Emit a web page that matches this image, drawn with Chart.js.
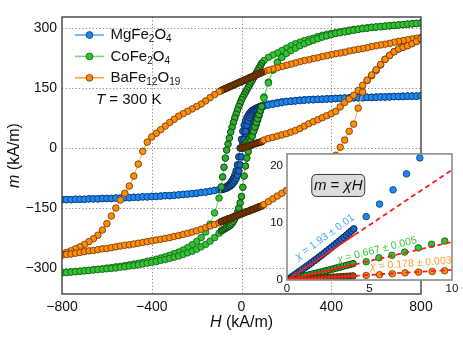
<!DOCTYPE html>
<html><head><meta charset="utf-8">
<script src="https://cdn.jsdelivr.net/npm/chart.js@4.4.0/dist/chart.umd.min.js"></script>
<style>
html,body{margin:0;padding:0;background:#fff;}
#wrap{position:relative;width:463px;height:348px;overflow:hidden;}
#main{position:absolute;left:0;top:0;width:463px;height:348px;}
#inset{position:absolute;left:258px;top:143px;width:205px;height:160px;}
</style></head><body>
<div id="wrap">
<canvas id="main" width="463" height="348"></canvas>
<canvas id="inset" width="205" height="160"></canvas>
</div>
<script>
// ---------------- DATA ----------------
const seriesNames = ['MgFe₂O₄', 'CoFe₂O₄', 'BaFe₁₂O₁₉'];
const tempLabel = 'T = 300 K';
const xTitle = 'H (kA/m)';
const yTitle = 'm (kA/m)';
const xTickValues = [-800, -400, 0, 400, 800];
const yTickValues = [-300, -150, 0, 150, 300];
const insetXTicks = [0, 5, 10];
const insetYTicks = [0, 10, 20];
const insetBoxLabel = 'm = χH';
const chiValues = [1.93, 0.667, 0.178];
const chiLabels = ['χ = 1.93 ± 0.01', 'χ = 0.667 ± 0.005', 'χ = 0.178 ± 0.003'];

// field values (kA/m): initial curve, descending branch, ascending branch
const hVirgin = [0,6,12,18,24,30,36,42,48,54,60,66,72,78,84,90,
  100,120,140,160,180,200,220,240,260,280,300,320,340,360,380,400,420,440,460,480,
  500,520,540,560,580,600,620,640,660,680,700,720,740,760,780,800];
const hDown = [800,780,760,740,720,700,680,660,640,620,
  600,580,560,540,520,500,480,460,440,420,
  400,380,360,340,320,300,280,260,240,220,
  200,180,160,140,120,100,
  90,84,78,72,66,60,54,48,42,36,
  30,24,18,12,6,0,-6,-12,-18,-24,
  -30,-36,-42,-48,-54,-60,-66,-72,-78,-84,
  -90,
  -100,-120,-140,-160,-180,-200,-220,-240,-260,-280,
  -300,-320,-340,-360,-380,-400,-420,-440,-460,-480,
  -500,-520,-540,-560,-580,-600,-620,-640,-660,-680,
  -700,-720,-740,-760,-780,-800];
const hUp = [-800,-780,-760,-740,-720,-700,-680,-660,-640,-620,
  -600,-580,-560,-540,-520,-500,-480,-460,-440,-420,
  -400,-380,-360,-340,-320,-300,-280,-260,-240,-220,
  -200,-180,-160,-140,-120,-100,
  -90,-84,-78,-72,-66,-60,-54,-48,-42,-36,
  -30,-24,-18,-12,-6,0,6,12,18,24,
  30,36,42,48,54,60,66,72,78,84,
  90,
  100,120,140,160,180,200,220,240,260,280,
  300,320,340,360,380,400,420,440,460,480,
  500,520,540,560,580,600,620,640,660,680,
  700,720,740,760,780,800];

// MgFe2O4 magnetization (kA/m)
const mgVirgin = [0,12,23,35,46,56,65,73,80,85,89,93,96,98,100,102,
  105,108,110,112,114,116,117,118,119,120,
  121,121,122,122,123,123,124,124,125,125,
  126,126,126,127,127,127,128,128,128,129,
  129,129,130,130,130,131];
const mgDown = [131,130,130,130,130,129,129,129,128,128,
  128,127,127,127,126,126,126,125,125,124,
  124,123,123,122,122,121,121,120,119,118,
  117,116,114,112,110,107,
  105,104,103,101,100,98,96,94,91,87,
  82,76,68,57,42,22,0,-22,-42,-57,
  -68,-76,-82,-87,-91,-94,-96,-98,-100,-101,
  -103,
  -104,-106,-108,-110,-111,-113,-114,-115,-116,-117,
  -118,-119,-119,-120,-121,-121,-122,-122,-123,-123,
  -124,-124,-125,-125,-126,-126,-126,-127,-127,-127,
  -128,-128,-128,-129,-129,-129];
const mgUp = [-129,-129,-129,-128,-128,-128,-127,-127,-127,-126,
  -126,-126,-125,-125,-124,-124,-123,-123,-122,-122,
  -121,-121,-120,-119,-119,-118,-117,-116,-115,-114,
  -113,-111,-110,-108,-106,-104,
  -104,-103,-102,-101,-100,-98,-96,-94,-91,-87,
  -82,-76,-68,-57,-42,-22,0,22,42,57,
  68,76,82,87,91,94,96,98,100,101,
  103,
  106,108,110,112,114,116,117,118,119,120,
  121,121,122,122,123,123,124,124,125,125,
  126,126,126,127,127,127,128,128,128,129,
  129,129,130,130,130,131];

// CoFe2O4 magnetization (kA/m)
const coVirgin = [0,4,8,12,16,20,25,30,36,43,51,60,70,81,93,106,
  128,165,196,215,228,238,246,252,257,262,
  266,270,274,278,281,284,287,289,291,293,
  295,297,299,300,302,303,304,305,306,307,
  308,309,310,311,312,313];
const coDown = [313,312,311,310,309,308,307,306,305,304,
  303,302,301,300,298,297,295,293,291,289,
  287,285,282,279,275,272,269,265,261,256,
  250,244,238,233,227,219,
  212,206,200,194,188,182,176,170,164,158,
  152,146,140,134,128,121,113,104,95,85,
  75,64,52,40,25,10,-5,-25,-48,-72,
  -97,
  -125,-162,-190,-210,-224,-234,-242,-249,-255,-260,
  -264,-268,-272,-275,-278,-281,-283,-286,-288,-290,
  -292,-294,-296,-297,-299,-300,-302,-303,-304,-306,
  -307,-308,-309,-310,-311,-312];
const coUp = [-312,-311,-310,-309,-308,-307,-306,-305,-304,-303,
  -302,-301,-300,-298,-297,-295,-294,-292,-290,-288,
  -286,-284,-281,-279,-276,-273,-270,-266,-262,-258,
  -253,-247,-241,-233,-224,-213,
  -207,-205,-203,-201,-199,-197,-195,-192,-188,-183,
  -177,-170,-161,-150,-137,-121,-98,-70,-45,-25,
  -9,5,18,30,42,53,64,74,84,94,
  104,
  125,163,195,214,227,237,244,250,256,261,
  266,270,274,278,281,284,287,289,291,293,
  295,297,299,300,302,303,304,305,306,307,
  308,309,310,311,312,313];

// BaFe12O19 magnetization (kA/m)
const baVirgin = [0,1,2,3,4,5,6,7,9,10,11,12,13,14,15,16,
  20,24,27,30,33,36,40,44,49,55,
  61,66,71,76,81,86,92,103,114,123,
  132,144,157,169,181,194,208,222,232,241,
  248,253,257,262,267,273];
const baDown = [277,275,273,271,269,267,265,262,260,258,
  256,254,251,249,247,245,243,240,238,236,
  234,231,229,226,224,221,219,216,213,210,
  207,204,201,198,195,191,
  189,188,186,185,183,182,180,179,177,176,
  174,173,171,170,168,167,165,164,162,161,
  159,158,156,155,153,152,150,149,147,146,
  144,
  141,134,126,118,110,104,98,92,86,80,
  72,64,55,46,37,28,15,-8,-40,-70,
  -95,-113,-130,-150,-170,-189,-205,-218,-227,-234,
  -241,-247,-252,-257,-261,-265];
const baUp = [-268,-266,-265,-263,-261,-259,-257,-256,-254,-252,
  -251,-249,-247,-245,-243,-242,-240,-238,-236,-234,
  -232,-230,-228,-226,-224,-221,-219,-216,-213,-210,
  -207,-203,-199,-195,-191,-187,
  -184,-183,-181,-180,-179,-177,-176,-175,-174,-172,
  -171,-170,-168,-167,-166,-164,-163,-162,-160,-159,
  -158,-157,-155,-154,-153,-151,-150,-149,-147,-146,
  -145,
  -141,-134,-127,-120,-113,-106,-100,-94,-88,-82,
  -75,-67,-58,-49,-40,-30,-18,2,20,42,
  60,100,140,170,183,196,209,222,232,241,
  248,252,256,261,267,274];

// inset: low-field initial curves
const insetMgH = [0,0.15,0.3,0.45,0.6,0.75,0.9,1.05,1.2,1.35,1.5,1.65,1.8,1.95,2.1,2.25,2.4,2.55,2.7,2.85,3.0,3.15,3.3,3.45,3.6,3.75,3.9,4.05,4.8,5.61,6.43,7.24,8.05];
const insetMgM = [0,0.29,0.58,0.88,1.18,1.49,1.79,2.1,2.42,2.73,3.05,3.38,3.7,4.03,4.36,4.7,5.04,5.38,5.72,6.07,6.42,6.77,7.13,7.49,7.85,8.22,8.59,8.96,11.1,13.3,15.8,18.6,21.4];
const insetCoH = [0,0.2,0.4,0.6,0.8,1.0,1.2,1.4,1.6,1.8,2.0,2.2,2.4,2.6,2.8,3.0,3.2,3.4,3.6,3.8,4.0,4.8,5.57,6.36,7.13,7.96,8.76,9.56];
const insetCoM = [0,0.13,0.27,0.4,0.54,0.67,0.81,0.95,1.08,1.22,1.36,1.5,1.65,1.79,1.94,2.09,2.24,2.4,2.55,2.71,2.87,3.2,3.9,4.33,4.89,5.63,6.26,6.83];
const insetBaH = [0,0.2,0.4,0.6,0.8,1.0,1.2,1.4,1.6,1.8,2.0,2.2,2.4,2.6,2.8,3.0,3.2,3.4,3.6,3.8,4.0,4.8,5.61,6.38,7.16,7.97,8.8,9.55];
const insetBaM = [0,0.04,0.07,0.11,0.14,0.18,0.21,0.25,0.28,0.32,0.36,0.39,0.43,0.46,0.5,0.53,0.57,0.6,0.64,0.68,0.71,0.8,0.93,1.09,1.26,1.38,1.5,1.62];
const fitSplitH = 4.1;
const fitEndH = 10;

// ---------------- STYLE ----------------
const FF = '"Liberation Sans", Arial, Helvetica, sans-serif';
const styles = [
  {fill:'#1e88f0', edge:'#0a3a78', line:'#5aaaf5', text:'#4aa3ff', dFill:'#1a66c0', dEdge:'#082a58'},
  {fill:'#33c233', edge:'#0f5e0f', line:'#6edc6e', text:'#3cc83c', dFill:'#30aa30', dEdge:'#0c4a0c'},
  {fill:'#ff8c0a', edge:'#6b3300', line:'#ffa640', text:'#ff9d2e', dFill:'#9a4f0c', dEdge:'#4a2200'}
];
const mainDenseLimit = 91;   // fine-step field range (|H| below this)
const insetDenseLimit = 4.1;

function pts(hs, ms){ return hs.map((h,i)=>({x:h, y:ms[i]})); }
function fmt(v){ return v < 0 ? '\u2212' + Math.abs(v) : String(v); }

const SUB = {'₀':'0','₁':'1','₂':'2','₃':'3','₄':'4','₅':'5','₆':'6','₇':'7','₈':'8','₉':'9'};
function runs(str, italicIdx){
  const out = [];
  [...str].forEach((ch,i)=>{
    const sub = SUB[ch] !== undefined;
    const st = sub ? 's' : (italicIdx.includes(i) ? 'i' : 'n');
    const c = sub ? SUB[ch] : ch;
    if (out.length && out[out.length-1].st === st) out[out.length-1].t += c;
    else out.push({st, t:c});
  });
  return out;
}
function fontFor(st, size){
  if (st === 's') return `${Math.round(size*0.68)}px ${FF}`;
  if (st === 'i') return `italic ${size}px ${FF}`;
  return `${size}px ${FF}`;
}
function drawRich(ctx, str, x, y, size, italicIdx, align, color){
  const rs = runs(str, italicIdx || []);
  let w = 0;
  rs.forEach(r=>{ ctx.font = fontFor(r.st, size); w += ctx.measureText(r.t).width; });
  let cx = align === 'center' ? x - w/2 : x;
  ctx.textBaseline = 'middle'; ctx.textAlign = 'left'; ctx.fillStyle = color || '#111';
  rs.forEach(r=>{
    ctx.font = fontFor(r.st, size);
    ctx.fillText(r.t, cx, y + (r.st === 's' ? size*0.3 : 0));
    cx += ctx.measureText(r.t).width;
  });
  return w;
}

// ---------------- MAIN CHART ----------------
const materials = [
  {v:mgVirgin, d:mgDown, u:mgUp, order:2},
  {v:coVirgin, d:coDown, u:coUp, order:1},
  {v:baVirgin, d:baDown, u:baUp, order:0}
];
const mainDatasets = materials.map((m,i)=>({
  label: seriesNames[i],
  data: [...pts(hVirgin, m.v), ...pts(hDown, m.d), ...pts(hUp, m.u)],
  showLine: true,
  borderColor: styles[i].line,
  borderWidth: 1,
  pointRadius: 3.3,
  pointBackgroundColor: c => (c.raw && Math.abs(c.raw.x) < mainDenseLimit) ? styles[i].dFill : styles[i].fill,
  pointBorderColor: c => (c.raw && Math.abs(c.raw.x) < mainDenseLimit) ? styles[i].dEdge : styles[i].edge,
  pointBorderWidth: c => (c.raw && Math.abs(c.raw.x) < mainDenseLimit) ? 1.0 : 0.8,
  clip: 0,
  order: m.order
}));

const mainPlugin = {
  id: 'mainDecor',
  beforeDatasetsDraw(chart){
    const {ctx, chartArea:a, scales:{x, y}} = chart;
    ctx.save();
    ctx.strokeStyle = '#8a8a8a'; ctx.lineWidth = 1; ctx.setLineDash([1.2, 2.2]);
    xTickValues.forEach(v=>{
      if (v === x.min || v === x.max) return;
      const px = Math.round(x.getPixelForValue(v)) + 0.5;
      ctx.beginPath(); ctx.moveTo(px, a.top); ctx.lineTo(px, a.bottom); ctx.stroke();
    });
    yTickValues.forEach(v=>{
      const py = Math.round(y.getPixelForValue(v)) + 0.5;
      ctx.beginPath(); ctx.moveTo(a.left, py); ctx.lineTo(a.right, py); ctx.stroke();
    });
    ctx.restore();
  },
  afterDatasetsDraw(chart){
    const {ctx, chartArea:a} = chart;
    ctx.save();
    ctx.strokeStyle = '#333'; ctx.lineWidth = 1.3;
    ctx.strokeRect(a.left, a.top, a.right - a.left, a.bottom - a.top);
    drawRich(ctx, xTitle, (a.left + a.right)/2, 323, 16, [0], 'center');
    ctx.save();
    ctx.translate(15, (a.top + a.bottom)/2);
    ctx.rotate(-Math.PI/2);
    drawRich(ctx, yTitle, 0, 0, 16, [0], 'center');
    ctx.restore();
    seriesNames.forEach((name, i)=>{
      const ly = a.top + 18 + i*21.4;
      ctx.strokeStyle = styles[i].line; ctx.lineWidth = 1.6; ctx.setLineDash([]);
      ctx.beginPath(); ctx.moveTo(a.left + 13, ly); ctx.lineTo(a.left + 42, ly); ctx.stroke();
      ctx.beginPath(); ctx.arc(a.left + 27.5, ly, 3.4, 0, Math.PI*2);
      ctx.fillStyle = styles[i].fill; ctx.fill();
      ctx.strokeStyle = styles[i].edge; ctx.lineWidth = 0.8; ctx.stroke();
      drawRich(ctx, name, a.left + 48.5, ly, 15, [], 'left');
    });
    drawRich(ctx, tempLabel, a.left + 34, a.top + 83, 15, [0], 'left');
    ctx.restore();
  }
};

new Chart(document.getElementById('main'), {
  type: 'scatter',
  data: {datasets: mainDatasets},
  options: {
    responsive: false, animation: false, events: [],
    layout: {padding: {top: 17, right: 42, left: 0, bottom: 0}},
    plugins: {legend: {display: false}, tooltip: {enabled: false}},
    scales: {
      x: {
        type: 'linear', min: -800, max: 800,
        grid: {display: false, drawTicks: false}, border: {display: false},
        afterBuildTicks(s){ s.ticks = xTickValues.map(v=>({value:v})); },
        afterFit(s){ s.height = 54; },
        ticks: {padding: 5, color: '#111', font: {family: FF, size: 14}, callback: fmt, maxRotation: 0, autoSkip: false}
      },
      y: {
        type: 'linear', min: -365, max: 328,
        grid: {display: false, drawTicks: false}, border: {display: false},
        afterBuildTicks(s){ s.ticks = yTickValues.map(v=>({value:v})); },
        afterFit(s){ s.width = 62; },
        ticks: {padding: 5, color: '#111', font: {family: FF, size: 14}, callback: fmt, autoSkip: false}
      }
    }
  },
  plugins: [mainPlugin]
});

// ---------------- INSET ----------------
const insetSets = [[insetMgH, insetMgM], [insetCoH, insetCoM], [insetBaH, insetBaM]];
const insetDatasets = [];
insetSets.forEach((s,i)=>{
  insetDatasets.push({
    data: pts(s[0], s[1]), showLine: false,
    pointRadius: 3.3,
    pointBackgroundColor: c => (c.raw && c.raw.x < insetDenseLimit) ? styles[i].dFill : styles[i].fill,
    pointBorderColor: c => (c.raw && c.raw.x < insetDenseLimit) ? styles[i].dEdge : styles[i].edge,
    pointBorderWidth: c => (c.raw && c.raw.x < insetDenseLimit) ? 1.0 : 0.8,
    clip: 0, order: 5 + (2 - i)
  });
});
chiValues.forEach(chi=>{
  insetDatasets.push({
    data: [{x:0, y:0}, {x:fitSplitH, y:chi*fitSplitH}], showLine: true,
    borderColor: '#ff1a1a', borderWidth: 1.8, pointRadius: 0, clip: 0, order: 0
  });
  insetDatasets.push({
    data: [{x:fitSplitH, y:chi*fitSplitH}, {x:fitEndH, y:chi*fitEndH}], showLine: true,
    borderColor: '#ff1a1a', borderWidth: 1.8, borderDash: [5, 3.5], pointRadius: 0, clip: 0, order: 0
  });
});

const labelPos = [
  {x:2.29, y:7.5, rot:-36},
  {x:5.45, y:5.25, rot:-14},
  {x:7.5, y:2.85, rot:-4.5}
];
const insetPlugin = {
  id: 'insetDecor',
  beforeDraw(chart){
    const {ctx, chartArea:a} = chart;
    ctx.save(); ctx.fillStyle = '#fff';
    ctx.fillRect(a.left, a.top, a.right - a.left, a.bottom - a.top);
    ctx.restore();
  },
  afterDatasetsDraw(chart){
    const {ctx, chartArea:a, scales:{x, y}} = chart;
    ctx.save();
    chiLabels.forEach((t,i)=>{
      const p = labelPos[i];
      ctx.save();
      ctx.translate(x.getPixelForValue(p.x), y.getPixelForValue(p.y));
      ctx.rotate(p.rot*Math.PI/180);
      drawRich(ctx, t, 0, 0, 10.5, [0], 'center', styles[i].text);
      ctx.restore();
    });
    const bx = x.getPixelForValue(1.5), by = y.getPixelForValue(18.5);
    const bw = 53, bh = 22, r = 5;
    ctx.beginPath();
    ctx.moveTo(bx + r, by); ctx.lineTo(bx + bw - r, by); ctx.quadraticCurveTo(bx + bw, by, bx + bw, by + r);
    ctx.lineTo(bx + bw, by + bh - r); ctx.quadraticCurveTo(bx + bw, by + bh, bx + bw - r, by + bh);
    ctx.lineTo(bx + r, by + bh); ctx.quadraticCurveTo(bx, by + bh, bx, by + bh - r);
    ctx.lineTo(bx, by + r); ctx.quadraticCurveTo(bx, by, bx + r, by);
    ctx.closePath();
    ctx.fillStyle = '#dcdcdc'; ctx.fill();
    ctx.strokeStyle = '#333'; ctx.lineWidth = 1; ctx.stroke();
    drawRich(ctx, insetBoxLabel, bx + bw/2, by + bh/2 + 0.5, 15, [0,4,5], 'center', '#111');
    ctx.strokeStyle = '#8c8c8c'; ctx.lineWidth = 1.6;
    ctx.strokeRect(a.left, a.top, a.right - a.left, a.bottom - a.top);
    ctx.restore();
  }
};

new Chart(document.getElementById('inset'), {
  type: 'scatter',
  data: {datasets: insetDatasets},
  options: {
    responsive: false, animation: false, events: [],
    layout: {padding: {top: 9, right: 11, left: 0, bottom: 0}},
    plugins: {legend: {display: false}, tooltip: {enabled: false}},
    scales: {
      x: {
        type: 'linear', min: 0, max: 10,
        grid: {display: false, drawTicks: false}, border: {display: false},
        afterBuildTicks(s){ s.ticks = insetXTicks.map(v=>({value:v})); },
        afterFit(s){ s.height = 23; },
        ticks: {padding: 2, color: '#111', font: {family: FF, size: 11.5}, maxRotation: 0, autoSkip: false}
      },
      y: {
        type: 'linear', min: 0, max: 22.1,
        grid: {display: false, drawTicks: false}, border: {display: false},
        afterBuildTicks(s){ s.ticks = insetYTicks.map(v=>({value:v})); },
        afterFit(s){ s.width = 29; },
        ticks: {padding: 4, color: '#111', font: {family: FF, size: 11.5}, autoSkip: false}
      }
    }
  },
  plugins: [insetPlugin]
});
</script>
</body></html>
